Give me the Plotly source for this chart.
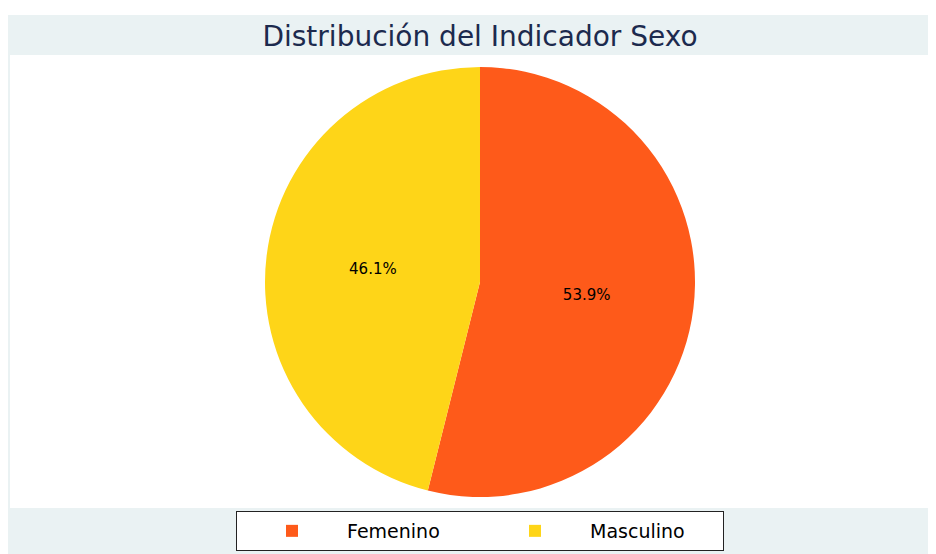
import plotly.graph_objects as go

categories = ["Femenino", "Masculino"]
values = [53.9, 46.1]
colors = ["#FE5A1A", "#FED518"]

OFF = 8  # browser body margin
W, H = 936 - OFF, 554 - OFF

def px_x(x):
    return max(0.0, min(1.0, (x - OFF) / W))

def px_y(y):
    return max(0.0, min(1.0, 1 - (y - OFF) / H))

FONT = "DejaVu Sans, Liberation Sans, Arial, sans-serif"

fig = go.Figure()
fig.add_trace(go.Pie(
    labels=categories,
    values=values,
    sort=False,
    direction="clockwise",
    rotation=0,
    marker=dict(colors=colors, line=dict(width=0)),
    texttemplate="%{percent:.1%}",
    textposition="inside",
    insidetextorientation="horizontal",
    textfont=dict(family=FONT, size=15, color="#000000"),
    hoverinfo="label+percent",
    domain=dict(x=[px_x(180), px_x(780)], y=[px_y(497), px_y(67)]),
))

shapes = [
    dict(type="rect", xref="paper", yref="paper", x0=0.0, x1=1.0, y0=0.0, y1=px_y(15),
         fillcolor="#EAF2F3", line=dict(width=0), layer="below"),
    dict(type="rect", xref="paper", yref="paper", x0=px_x(10), x1=1.0, y0=px_y(508), y1=px_y(55),
         fillcolor="#FFFFFF", line=dict(width=0), layer="below"),
]

fig.update_layout(
    width=W, height=H,
    margin=dict(l=0, r=0, t=0, b=0),
    paper_bgcolor="#FFFFFF",
    plot_bgcolor="#FFFFFF",
    shapes=shapes,
    title=dict(text="Distribución del Indicador Sexo", x=px_x(480), xanchor="center",
               y=px_y(36), yanchor="middle",
               font=dict(family=FONT, size=28, color="#1C2A4E")),
    legend=dict(orientation="h", x=px_x(480), xanchor="center", y=px_y(551), yanchor="bottom",
                bgcolor="#FFFFFF", bordercolor="#222222", borderwidth=1,
                font=dict(family=FONT, size=19, color="#000000"),
                itemwidth=100, entrywidth=128, itemsizing="constant"),
    showlegend=True,
)

fig.write_html("out.html")
